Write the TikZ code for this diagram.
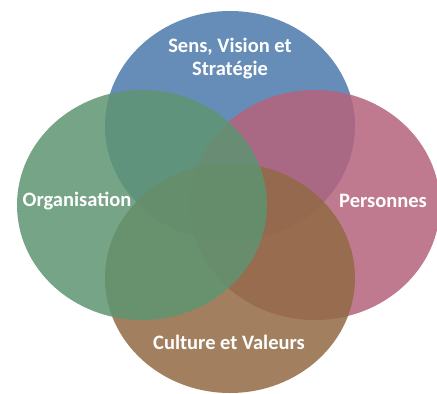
\documentclass[tikz,border=0pt]{standalone}
\usepackage{fontspec}
\setmainfont{Carlito}
\usetikzlibrary{shapes.geometric}

\definecolor{sensblue}{RGB}{75,121,171}
\definecolor{persrose}{RGB}{181,99,124}
\definecolor{cultbrown}{RGB}{146,105,67}
\definecolor{orggreen}{RGB}{94,148,113}

\begin{document}
\begin{tikzpicture}[x=1pt, y=-1pt,
    disc/.style = {ellipse, minimum width=250pt, minimum height=230pt,
                   inner sep=0pt, fill opacity=0.85},
    lbl/.style = {text=white, align=center,
                  font=\bfseries\fontsize{20.5}{23}\selectfont}]
    \useasboundingbox (0,0) rectangle (437,394);

    % the four domains, drawn in clockwise order
    \node[disc, fill=sensblue]  (sens)   at (230,126) {};
    \node[disc, fill=persrose]  (pers)   at (315,205) {};
    \node[disc, fill=cultbrown] (cult)   at (230,278) {};
    \node[disc, fill=orggreen]  (orga)   at (142,205) {};

    % labels
    \node[lbl] (senstxt) at (230,59)  {Sens, Vision et\\Stratégie};
    \node[lbl] (perstxt) at (383,201) {Personnes};
    \node[lbl] (culttxt) at (229,342) {Culture et Valeurs};
    \node[lbl] (orgatxt) at (77,201)  {Organisation};
\end{tikzpicture}
\end{document}
